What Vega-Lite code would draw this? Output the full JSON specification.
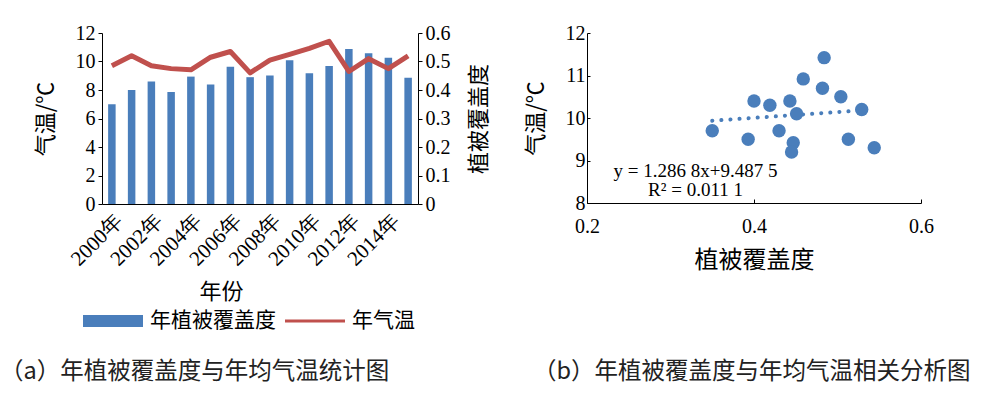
{
  "$schema": "https://vega.github.io/schema/vega-lite/v6.json",
  "background": "white",
  "padding": {"left": 0, "top": 23, "right": 0, "bottom": 5},
  "spacing": 35,
  "config": {
    "view": {"stroke": null},
    "font": "Liberation Serif",
    "axis": {
      "labelFont": "Liberation Serif", "labelFontSize": 20, "labelColor": "#000",
      "titleFont": "Noto Sans CJK SC", "titleFontSize": 22, "titleFontWeight": "normal", "titleColor": "#000",
      "domainColor": "#000", "tickColor": "#000", "grid": false, "tickSize": 4, "labelPadding": 3
    },
    "title": {"font": "Noto Sans CJK SC", "fontSize": 23.5, "fontWeight": "normal", "color": "#222"}
  },
  "data": {"values": [
    {"year": 2000, "cov": 0.350, "temp": 9.70},
    {"year": 2001, "cov": 0.400, "temp": 10.40},
    {"year": 2002, "cov": 0.430, "temp": 9.70},
    {"year": 2003, "cov": 0.393, "temp": 9.50},
    {"year": 2004, "cov": 0.447, "temp": 9.42},
    {"year": 2005, "cov": 0.419, "temp": 10.30},
    {"year": 2006, "cov": 0.482, "temp": 10.70},
    {"year": 2007, "cov": 0.445, "temp": 9.20},
    {"year": 2008, "cov": 0.451, "temp": 10.10},
    {"year": 2009, "cov": 0.504, "temp": 10.50},
    {"year": 2010, "cov": 0.459, "temp": 10.92},
    {"year": 2011, "cov": 0.484, "temp": 11.42},
    {"year": 2012, "cov": 0.544, "temp": 9.30},
    {"year": 2013, "cov": 0.529, "temp": 10.20},
    {"year": 2014, "cov": 0.513, "temp": 9.50},
    {"year": 2015, "cov": 0.443, "temp": 10.40}
  ]},
  "hconcat": [
    {
      "width": 316, "height": 171,
      "title": {"text": "（a）年植被覆盖度与年均气温统计图", "orient": "bottom", "anchor": "start", "frame": "group", "dx": -102, "offset": 58},
      "layer": [
        {
          "mark": {"type": "bar"},
          "encoding": {
            "x": {"field": "year", "type": "ordinal",
              "scale": {"paddingInner": 0.62, "paddingOuter": 0.31},
              "axis": {"values": [2000, 2002, 2004, 2006, 2008, 2010, 2012, 2014],
                "labelExpr": "datum.label + '年'", "labelAngle": -45, "labelFontSize": 21,
                "ticks": false, "labelPadding": 6, "title": "年份", "titlePadding": 12, "titleX": 119}},
            "y": {"field": "cov", "type": "quantitative", "scale": {"domain": [0, 0.6]},
              "axis": {"orient": "right", "title": "植被覆盖度", "values": [0, 0.1, 0.2, 0.3, 0.4, 0.5, 0.6],
                "labelExpr": "datum.value === 0 ? '0' : format(datum.value, '.1f')",
                "titleAngle": -90, "titleBaseline": "top", "titlePadding": 18}},
            "color": {"datum": "年植被覆盖度",
              "scale": {"domain": ["年植被覆盖度", "年气温"], "range": ["#4a7ebb", "#c0504d"]},
              "legend": {"orient": "none", "legendX": -19, "legendY": 258, "direction": "horizontal", "title": null,
                "labelFont": "Noto Sans CJK SC", "labelFontSize": 21, "labelColor": "#000",
                "symbolSize": 3600, "columnPadding": 9, "labelOffset": 7,
                "encode": {"symbols": {"update": {
                  "shape": {"signal": "datum.value === '年气温' ? 'M-1,-0.05H1V0.05H-1Z' : 'M-1,-0.2H1V0.2H-1Z'"},
                  "fill": {"signal": "datum.value === '年气温' ? '#c0504d' : '#4a7ebb'"},
                  "fillOpacity": {"value": 1}, "opacity": {"value": 1}, "strokeWidth": {"value": 0}}}}}}
          }
        },
        {
          "mark": {"type": "line", "strokeWidth": 5, "strokeJoin": "round"},
          "encoding": {
            "x": {"field": "year", "type": "ordinal"},
            "y": {"field": "temp", "type": "quantitative", "scale": {"domain": [0, 12]},
              "axis": {"orient": "left", "title": "气温/℃", "values": [0, 2, 4, 6, 8, 10, 12], "titlePadding": 18}},
            "color": {"datum": "年气温"}
          }
        }
      ],
      "resolve": {"scale": {"y": "independent"}}
    },
    {
      "width": 334, "height": 170,
      "title": {"text": "（b）年植被覆盖度与年均气温相关分析图", "orient": "bottom", "anchor": "start", "frame": "group", "dx": -54, "offset": 88},
      "layer": [
        {
          "transform": [{"regression": "temp", "on": "cov", "extent": [0.35, 0.53]}],
          "mark": {"type": "line", "strokeWidth": 4, "strokeDash": [0.1, 9], "strokeCap": "round", "color": "#4a7ebb"},
          "encoding": {
            "x": {"field": "cov", "type": "quantitative", "scale": {"domain": [0.2, 0.6], "zero": false}},
            "y": {"field": "temp", "type": "quantitative", "scale": {"domain": [8, 12], "zero": false}}
          }
        },
        {
          "mark": {"type": "circle", "size": 180, "opacity": 1, "color": "#4a7ebb"},
          "encoding": {
            "x": {"field": "cov", "type": "quantitative", "scale": {"domain": [0.2, 0.6], "zero": false},
              "axis": {"values": [0.2, 0.4, 0.6], "format": ".1f", "labelFlush": false, "title": "植被覆盖度", "titleFontSize": 24, "tickSize": -4, "labelPadding": 17, "titlePadding": 12}},
            "y": {"field": "temp", "type": "quantitative", "scale": {"domain": [8, 12], "zero": false},
              "axis": {"values": [8, 9, 10, 11, 12], "format": "d", "labelFlush": false, "title": "气温/℃", "tickSize": -3, "labelPadding": 5, "titlePadding": 18}}
          }
        },
        {
          "data": {"values": [{"label": "y = 1.286 8x+9.487 5"}]},
          "mark": {"type": "text", "font": "Liberation Serif", "fontSize": 19, "fontWeight": "normal", "align": "center", "baseline": "middle", "color": "#000"},
          "encoding": {"x": {"datum": 0.33}, "y": {"datum": 8.76}, "text": {"field": "label"}}
        },
        {
          "data": {"values": [{"label": "R² = 0.011 1"}]},
          "mark": {"type": "text", "font": "Liberation Serif", "fontSize": 19, "fontWeight": "normal", "align": "center", "baseline": "middle", "color": "#000"},
          "encoding": {"x": {"datum": 0.33}, "y": {"datum": 8.3}, "text": {"field": "label"}}
        }
      ]
    }
  ]
}
